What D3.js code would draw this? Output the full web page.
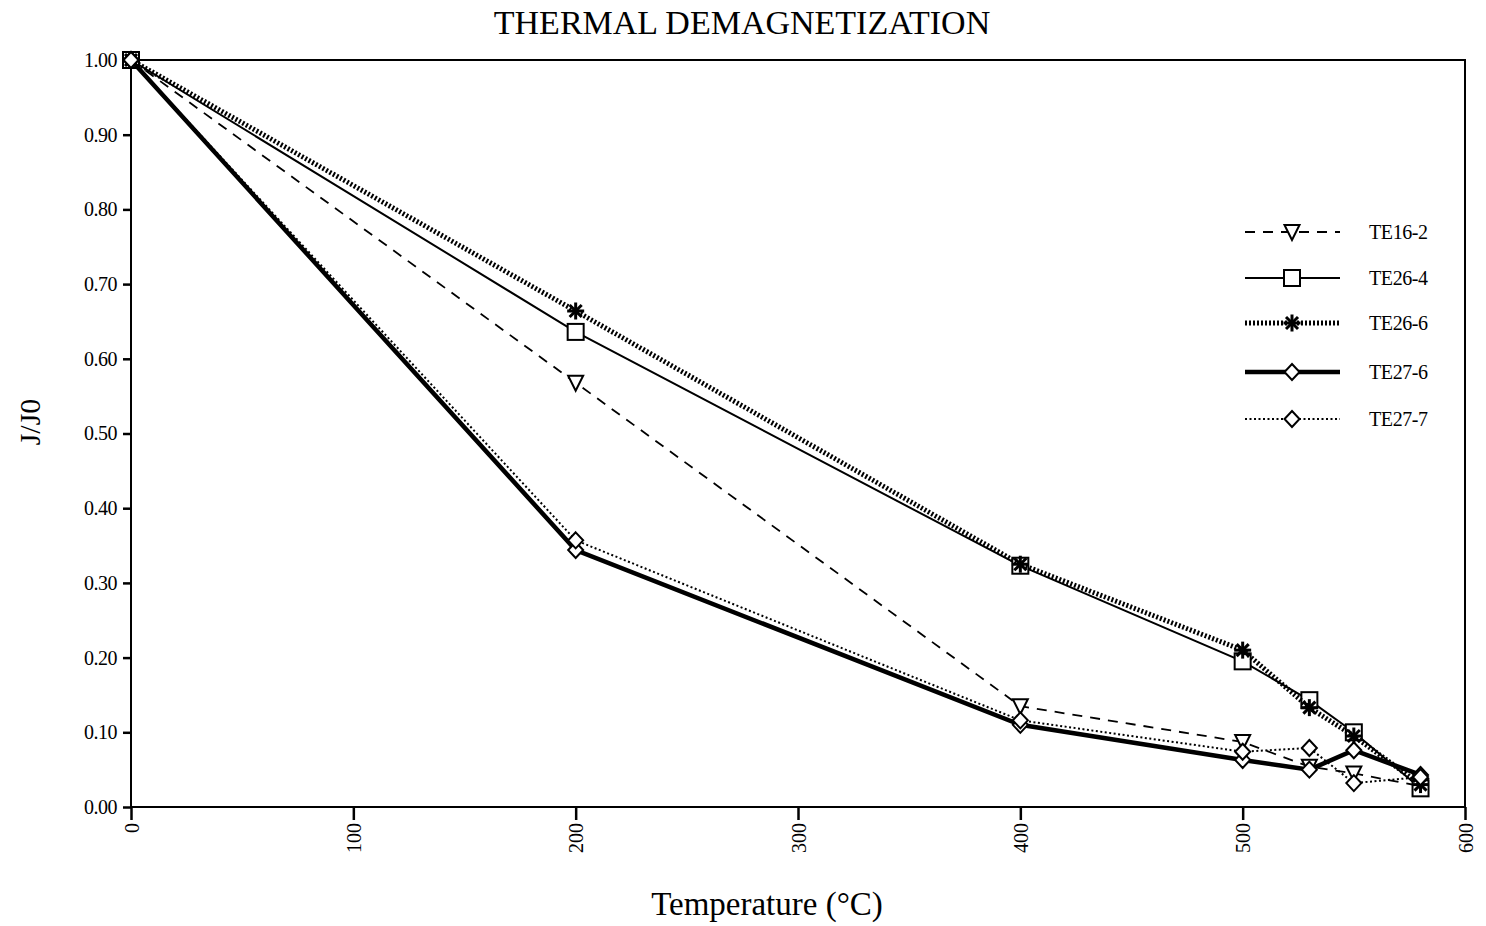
<!DOCTYPE html>
<head>
  <meta charset="utf-8">
  <script src="https://d3js.org/d3.v7.min.js"></script>
  <style>
  body { margin: 0; background: #fff; }
  text { font-family: "Liberation Serif", "Times New Roman", serif; fill: #000; }
  .frame { fill: none; stroke: #000; stroke-width: 2px; }
  .axis path { display: none; }
  .axis line { stroke: #000; stroke-width: 2.5px; }
  .axis text { font-size: 20px; }
  .line { fill: none; stroke: #000; }
  .marker { fill: #fff; stroke: #000; stroke-width: 2px; }
</style>
</head>
<body>
<svg width="1486" height="926"></svg>

<script type="text/javascript">
// Temperatures (°C) for each demagnetization step
var temps = [0, 200, 400, 500, 530, 550, 580];

// J/J0 values
var te16_2 = [1.00, 0.568, 0.135, 0.087, 0.054, 0.045, 0.028];
var te26_4 = [1.00, 0.636, 0.323, 0.195, 0.143, 0.100, 0.025];
var te26_6 = [1.00, 0.664, 0.325, 0.210, 0.133, 0.095, 0.030];
var te27_6 = [1.00, 0.344, 0.110, 0.063, 0.050, 0.076, 0.043];
var te27_7 = [1.00, 0.357, 0.116, 0.074, 0.079, 0.032, 0.040];

var seriesNames = ["TE16-2", "TE26-4", "TE26-6", "TE27-6", "TE27-7"];
var xTicks = [0, 100, 200, 300, 400, 500, 600];
var yTicks = [0, 0.1, 0.2, 0.3, 0.4, 0.5, 0.6, 0.7, 0.8, 0.9, 1.0];

var series = [
  {name: seriesNames[0], values: te16_2, marker: "triangle", width: 1.8, dash: "10,8"},
  {name: seriesNames[1], values: te26_4, marker: "square", width: 2, dash: null},
  {name: seriesNames[2], values: te26_6, marker: "asterisk", width: 5, dash: "2,2"},
  {name: seriesNames[3], values: te27_6, marker: "diamond", width: 4.5, dash: null},
  {name: seriesNames[4], values: te27_7, marker: "diamond", width: 2, dash: "2,2.5"}
];

var svg = d3.select("svg");
var margin = {left: 131, top: 60, right: 1465, bottom: 807};

var x = d3.scaleLinear().domain([0, 600]).range([margin.left, margin.right]);
var y = d3.scaleLinear().domain([0, 1]).range([margin.bottom, margin.top]);

// frame around plot
svg.append("rect").attr("class", "frame")
  .attr("x", margin.left).attr("y", margin.top)
  .attr("width", margin.right - margin.left).attr("height", margin.bottom - margin.top);

// axes
svg.append("g").attr("class", "axis")
  .attr("transform", "translate(0," + margin.bottom + ")")
  .call(d3.axisBottom(x).tickValues(xTicks).tickSize(13).tickFormat(d3.format("d")))
  .selectAll("text")
    .attr("transform", "rotate(-90)")
    .attr("text-anchor", "end")
    .attr("x", -16).attr("y", 0).attr("dy", "0.35em");

svg.append("g").attr("class", "axis")
  .attr("transform", "translate(" + margin.left + ",0)")
  .call(d3.axisLeft(y).tickValues(yTicks).tickSize(8).tickFormat(d3.format(".2f")))
  .selectAll("text").attr("x", -14).style("letter-spacing", "-0.5px");

// titles
svg.append("text").attr("x", 742).attr("y", 34)
  .attr("text-anchor", "middle").style("font-size", "34px")
  .text("THERMAL DEMAGNETIZATION");

svg.append("text").attr("x", 767).attr("y", 915)
  .attr("text-anchor", "middle").style("font-size", "33px")
  .text("Temperature (°C)");

svg.append("text")
  .attr("transform", "translate(40,422) rotate(-90)")
  .attr("text-anchor", "middle").style("font-size", "30px")
  .text("J/J0");

// marker drawing
function drawMarker(g, type, cx, cy) {
  if (type === "triangle") {
    g.append("path").attr("class", "marker")
      .attr("d", "M" + (cx - 7.5) + "," + (cy - 7) + "L" + (cx + 7.5) + "," + (cy - 7) + "L" + cx + "," + (cy + 8) + "Z");
  } else if (type === "square") {
    g.append("rect").attr("class", "marker")
      .attr("x", cx - 8).attr("y", cy - 8).attr("width", 16).attr("height", 16);
  } else if (type === "diamond") {
    g.append("path").attr("class", "marker")
      .attr("d", "M" + cx + "," + (cy - 8) + "L" + (cx + 7.5) + "," + cy + "L" + cx + "," + (cy + 8) + "L" + (cx - 7.5) + "," + cy + "Z");
  } else if (type === "asterisk") {
    var r = 8.5;
    [0, 45, 90, 135].forEach(function(a) {
      var t = a * Math.PI / 180;
      g.append("line")
        .attr("x1", cx - r * Math.cos(t)).attr("y1", cy - r * Math.sin(t))
        .attr("x2", cx + r * Math.cos(t)).attr("y2", cy + r * Math.sin(t))
        .attr("stroke", "#000").attr("stroke-width", 3);
    });
  }
}

var line = d3.line()
  .x(function(d, i) { return x(temps[i]); })
  .y(function(d) { return y(d); });

series.forEach(function(s) {
  var g = svg.append("g");
  g.append("path").attr("class", "line")
    .attr("d", line(s.values))
    .attr("stroke-width", s.width)
    .attr("stroke-dasharray", s.dash);
  s.values.forEach(function(v, i) {
    drawMarker(g, s.marker, x(temps[i]), y(v));
  });
});

// legend
var legendY = [232, 278, 323, 372, 419];
series.forEach(function(s, i) {
  var g = svg.append("g");
  var ly = legendY[i];
  g.append("line")
    .attr("x1", 1245).attr("x2", 1340).attr("y1", ly).attr("y2", ly)
    .attr("stroke", "#000").attr("stroke-width", s.width)
    .attr("stroke-dasharray", s.dash);
  drawMarker(g, s.marker, 1292, ly);
  g.append("text").attr("x", 1369).attr("y", ly).attr("dy", "0.35em")
    .style("font-size", "20px").style("letter-spacing", "-0.4px")
    .text(s.name);
});
</script>
</body>
</html>
